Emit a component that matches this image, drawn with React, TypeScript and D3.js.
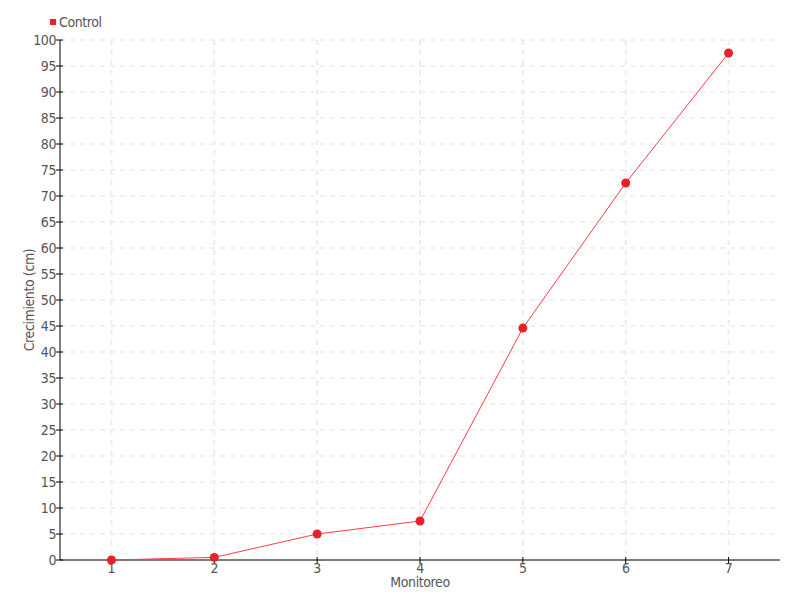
import React from "react";
import * as d3 from "d3";

const categories = ["1", "2", "3", "4", "5", "6", "7"];
const controlValues = [0, 0.5, 5, 7.5, 44.6, 72.5, 97.5];
const yTicks = d3.range(0, 101, 5);
const seriesName = "Control";
const xTitle = "Monitoreo";
const yTitle = "Crecimiento (cm)";

const W = 800, H = 600;
const m = { left: 60, right: 20, top: 40, bottom: 40 };
const FONT = "'DejaVu Sans Condensed', 'Liberation Sans Narrow', sans-serif";
const FS = 14;
const LS = -0.4;

export default function App() {
  const x = d3.scaleBand<string>().domain(categories).range([m.left, W - m.right]);
  const y = d3.scaleLinear().domain([0, 100]).range([H - m.bottom, m.top]);
  const cx = (c: string) => (x(c) as number) + x.bandwidth() / 2;
  const line = d3.line<number>().x((_, i) => cx(categories[i])).y((v) => y(v));
  const txt = { fontFamily: FONT, fontSize: FS, fill: "#555", letterSpacing: LS, fontWeight: 300 } as const;
  return (
    <svg width={W} height={H} style={{ position: "absolute", left: 0, top: 0, background: "#fff" }}>
      <g>
        {yTicks.map((t) => (
          <line key={"gy" + t} x1={m.left} x2={W - m.right} y1={y(t)} y2={y(t)} stroke="#e3e3e3" strokeDasharray="5,5" />
        ))}
        {categories.map((c) => (
          <line key={"gx" + c} x1={cx(c)} x2={cx(c)} y1={m.top} y2={H - m.bottom} stroke="#ececec" strokeWidth={2} strokeDasharray="5,5" />
        ))}
      </g>
      <line x1={m.left} x2={m.left} y1={m.top} y2={H - m.bottom} stroke="#000" />
      <line x1={m.left} x2={W - m.right} y1={H - m.bottom} y2={H - m.bottom} stroke="#000" />
      {yTicks.map((t) => (
        <g key={"ty" + t}>
          <line x1={m.left - 4} x2={m.left + 3} y1={y(t)} y2={y(t)} stroke="#000" />
          <text x={m.left - 4} y={y(t)} dy="0.35em" textAnchor="end" {...txt}>{t}</text>
        </g>
      ))}
      {categories.map((c) => (
        <g key={"tx" + c}>
          <line x1={cx(c)} x2={cx(c)} y1={H - m.bottom - 3} y2={H - m.bottom + 4} stroke="#000" />
          <text x={cx(c)} y={H - m.bottom + 13} textAnchor="middle" {...txt}>{c}</text>
        </g>
      ))}
      <text x={(m.left + W - m.right) / 2} y={587} textAnchor="middle" {...txt}>{xTitle}</text>
      <text transform={`translate(34,${(m.top + H - m.bottom) / 2}) rotate(-90)`} textAnchor="middle" {...txt}>{yTitle}</text>
      <path d={line(controlValues) || ""} fill="none" stroke="#ff3b47" strokeWidth={1} />
      {controlValues.map((v, i) => (
        <circle key={"p" + i} cx={cx(categories[i])} cy={y(v)} r={4.5} fill="#e8202a" />
      ))}
      <rect x={50} y={19} width={6} height={6} fill="#e8202a" />
      <text x={59} y={22} dy="0.35em" {...txt}>{seriesName}</text>
    </svg>
  );
}
